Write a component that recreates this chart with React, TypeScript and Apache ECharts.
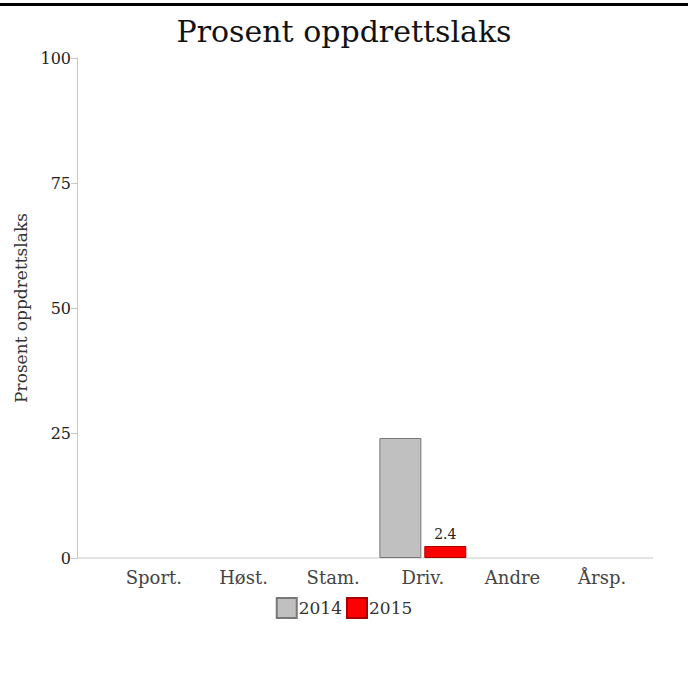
import React, { useEffect, useRef } from "react";
import * as echarts from "echarts";

const categories = ["Sport.", "Høst.", "Stam.", "Driv.", "Andre", "Årsp."];
const seriesNames = ["2014", "2015"];
const values2014: (number | null)[] = [null, null, null, 24, null, null];
const values2015: (number | null)[] = [null, null, null, 2.4, null, null];
const yTicks = [0, 25, 50, 75, 100];

const FONT = "DejaVu Serif";

export default function App() {
  const ref = useRef<HTMLDivElement>(null);
  useEffect(() => {
    document.body.style.margin = "0";
    const chart = echarts.init(ref.current!, null, { renderer: "svg" });
    chart.setOption({
      animation: false,
      backgroundColor: "#fff",
      textStyle: { fontFamily: FONT },
      title: {
        text: "Prosent oppdrettslaks",
        left: "center",
        top: 11,
        textStyle: { fontFamily: FONT, fontSize: 30, fontWeight: "normal", color: "#111" },
      },
      graphic: [
        { type: "rect", shape: { x: 0, y: 3, width: 688, height: 3 }, style: { fill: "#000" } },
        { type: "line", shape: { x1: 77, y1: 558, x2: 653, y2: 558 }, style: { stroke: "#c8c8c8", lineWidth: 1 } },
      ],
      legend: {
        data: seriesNames,
        top: 592,
        left: "center",
        icon: "rect",
        itemWidth: 20,
        itemHeight: 20,
        itemGap: 4,
        textStyle: { fontFamily: FONT, fontSize: 17, color: "#333", padding: [0, 0, 0, -3] },
      },
      grid: { left: 109, right: 41, top: 58, bottom: 139, containLabel: false },
      xAxis: {
        type: "category",
        data: categories,
        axisLine: { show: false },
        axisTick: { show: false },
        axisLabel: { fontFamily: FONT, fontSize: 18, color: "#444", margin: 10 },
      },
      yAxis: {
        type: "value",
        min: yTicks[0],
        max: yTicks[yTicks.length - 1],
        interval: 25,
        offset: 32,
        name: "Prosent oppdrettslaks",
        nameLocation: "middle",
        nameGap: 46,
        nameTextStyle: { fontFamily: FONT, fontSize: 17, color: "#333" },
        axisLine: { show: true, lineStyle: { color: "#c8c8c8" } },
        axisTick: { show: true, length: 6, lineStyle: { color: "#c8c8c8" } },
        splitLine: { show: false },
        axisLabel: { fontFamily: FONT, fontSize: 16, color: "#222", margin: 6 },
      },
      series: [
        {
          name: seriesNames[0],
          type: "bar",
          data: values2014,
          barWidth: 42,
          barGap: "7%",
          itemStyle: { color: "#c0c0c0", borderColor: "#777", borderWidth: 1 },
        },
        {
          name: seriesNames[1],
          type: "bar",
          data: values2015,
          barWidth: 42,
          itemStyle: { color: "#ff0000", borderColor: "#a00", borderWidth: 1 },
          label: {
            show: true,
            position: "top",
            fontFamily: FONT,
            fontSize: 14,
            color: "#222",
            distance: 5,
          },
        },
      ],
    });
    return () => chart.dispose();
  }, []);
  return <div ref={ref} style={{ width: 688, height: 697 }} />;
}
